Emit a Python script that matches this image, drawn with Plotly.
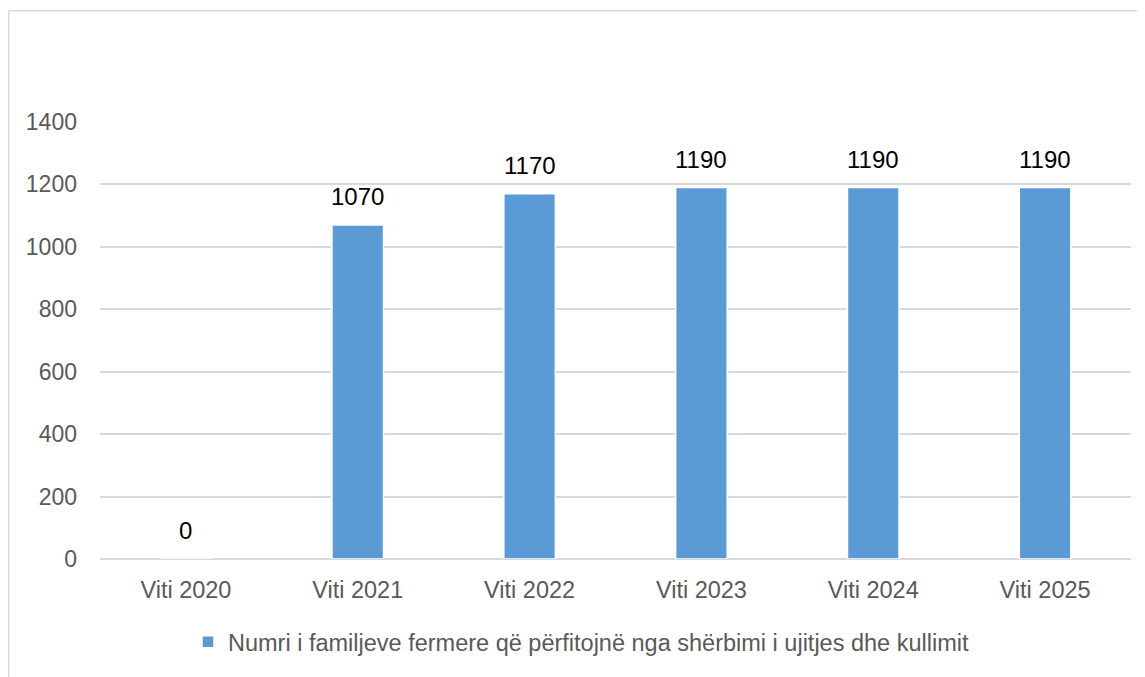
import plotly.graph_objects as go

categories = ["Viti 2020", "Viti 2021", "Viti 2022", "Viti 2023", "Viti 2024", "Viti 2025"]
values = [0, 1070, 1170, 1190, 1190, 1190]
series_name = "Numri i familjeve fermere që përfitojnë nga shërbimi i ujitjes dhe kullimit"
y_ticks = [0, 200, 400, 600, 800, 1000, 1200, 1400]

BAR = "#5B9BD5"
GRID = "#D9D9D9"
FONT = "Liberation Sans, Arial, sans-serif"

fig = go.Figure()
fig.add_trace(go.Bar(
    x=categories, y=values, name=series_name,
    marker=dict(color=BAR, line=dict(color="white", width=1.5)),
    showlegend=True,
))

for c, v in zip(categories, values):
    fig.add_annotation(x=c, y=v, text=str(v), showarrow=False, yanchor="bottom",
                       yshift=13, font=dict(family=FONT, size=24, color="black"))

# page body has an 8px offset, so the figure is drawn 8px smaller
OFF = 8
W, H = 1145 - OFF, 677 - OFF
ml, mr, mt, mb = 100 - OFF, 14, 122 - OFF, 118
pw, ph = W - ml - mr, H - mt - mb
bx = (8 - OFF - ml) / pw + 0.0008
by = (H - mb - (10 - OFF)) / ph - 0.002

fig.add_shape(type="line", xref="paper", yref="paper", x0=bx, x1=bx, y0=-0.5, y1=by,
              line=dict(color=GRID, width=1.5))
fig.add_shape(type="line", xref="paper", yref="paper", x0=bx, x1=1.2, y0=by, y1=by,
              line=dict(color=GRID, width=1.5))

fig.update_layout(
    width=W, height=H,
    margin=dict(l=ml, r=mr, t=mt, b=mb),
    paper_bgcolor="white", plot_bgcolor="white",
    bargap=0.7,
    font=dict(family=FONT, size=23, color="#595959"),
    xaxis=dict(showgrid=False, showline=False, ticks="", ticklabelstandoff=14,
               tickfont=dict(size=23.5, color="#595959")),
    yaxis=dict(range=[0, 1400], tickvals=y_ticks, showgrid=True, gridcolor=GRID, gridwidth=1.5,
               zeroline=True, zerolinecolor=GRID, zerolinewidth=1.5, showline=False, ticks="",
               ticklabelstandoff=22, tickfont=dict(size=23, color="#595959")),
    legend=dict(orientation="h", x=0.467, xanchor="center", y=-0.19, yanchor="middle",
                font=dict(size=23.5, color="#595959")),
)

fig.write_html("out.html")
